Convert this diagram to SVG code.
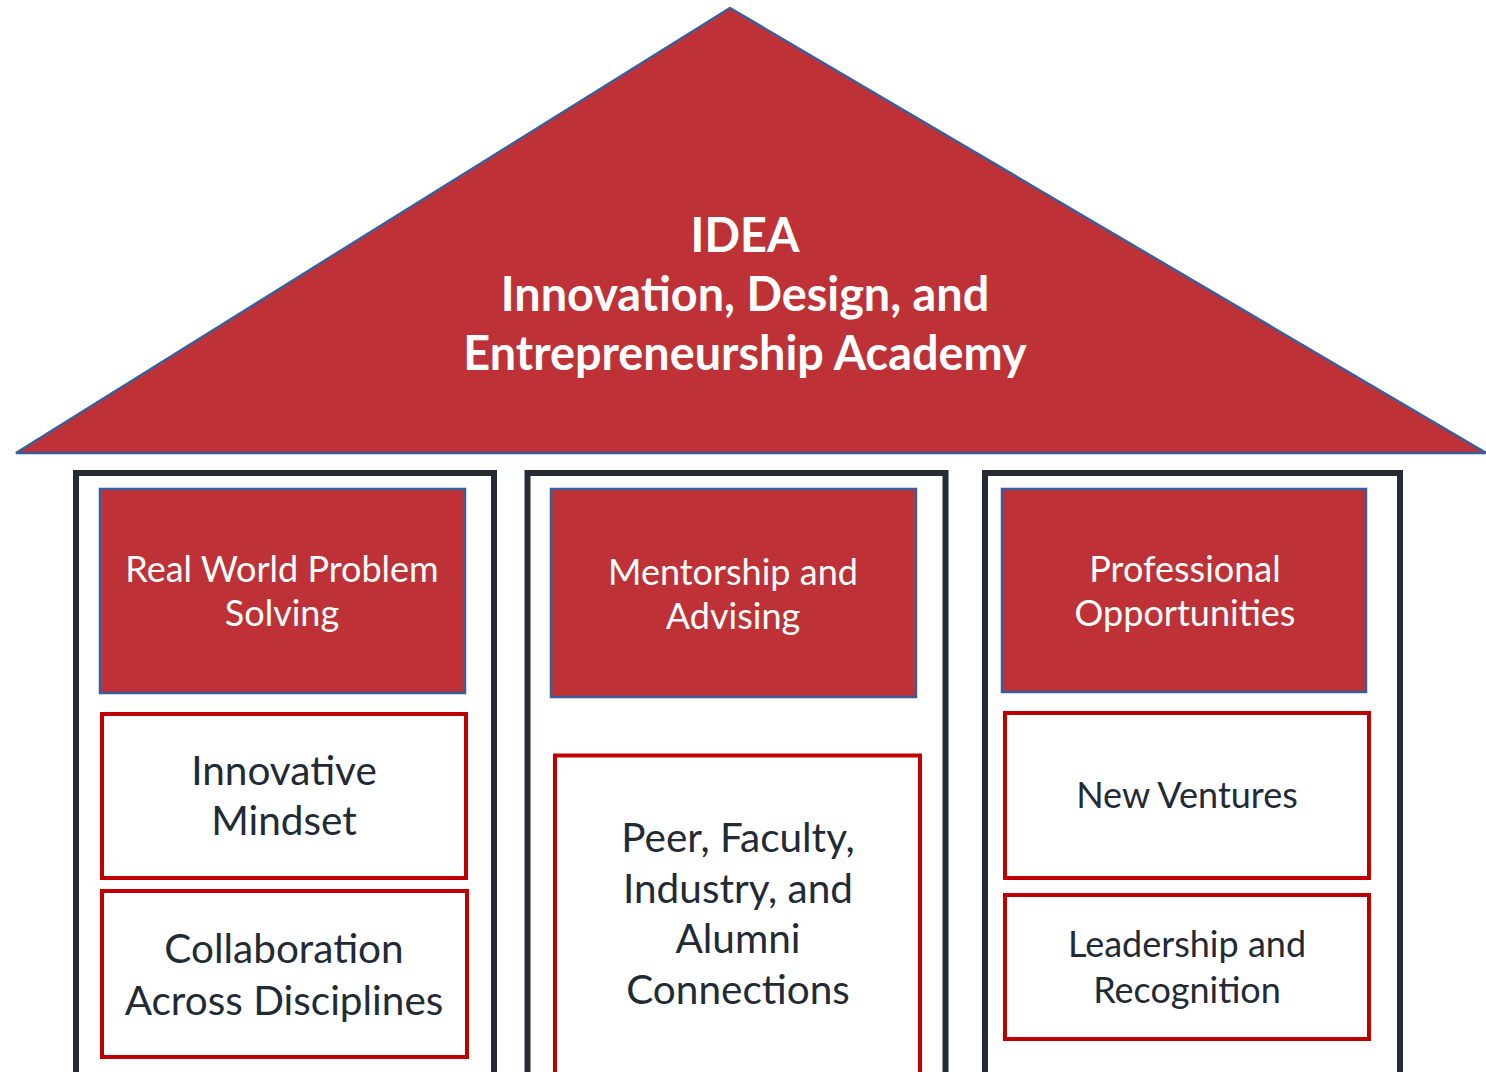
<svg xmlns="http://www.w3.org/2000/svg" width="1486" height="1072" viewBox="0 0 1486 1072">
<style>
.roof{fill:#BE3237;stroke:#3A5E9C;stroke-width:2.5;stroke-linejoin:bevel}
.pillar{fill:#FFFFFF;stroke:#252B35;stroke-width:6}
.head{fill:#BE3237;stroke:#3A5E9C;stroke-width:2.5}
.item{fill:#FFFFFF;stroke:#C00000;stroke-width:4}
.t{font-family:Lato,"Open Sans",sans-serif;text-anchor:middle}
.title{fill:#FFFFFF;font-weight:bold;font-size:46.8px}
.ht{fill:#FFFFFF;font-size:36px}
.it{fill:#222A35;font-size:40.5px}
.it2{fill:#222A35;font-size:36px}
</style>
<rect width="1486" height="1072" fill="#FFFFFF"/>
<g id="roof">
<polygon class="roof" points="730,8 1486,453 16,453"/>
<text class="t title" x="745" y="252">IDEA</text>
<text class="t title" x="745" y="311">Innovation, Design, and</text>
<text class="t title" x="745" y="370">Entrepreneurship Academy</text>
</g>
<g id="pillar-left">
<rect class="pillar" x="76" y="473" width="418" height="610"/>
</g>
<g id="pillar-middle">
<rect class="pillar" x="527.5" y="473" width="418" height="610"/>
</g>
<g id="pillar-right">
<rect class="pillar" x="985" y="473" width="415" height="610"/>
</g>
<g id="real-world">
<rect class="head" x="100" y="489" width="365" height="204"/>
<text class="t ht" x="282" y="582">Real World Problem</text>
<text class="t ht" x="282" y="626">Solving</text>
</g>
<g id="mentorship">
<rect class="head" x="551" y="489" width="365" height="208"/>
<text class="t ht" x="733" y="585">Mentorship and</text>
<text class="t ht" x="733" y="629">Advising</text>
</g>
<g id="professional">
<rect class="head" x="1002" y="489" width="364" height="203"/>
<text class="t ht" x="1185" y="582">Professional</text>
<text class="t ht" x="1185" y="626">Opportunities</text>
</g>
<g id="innovative-mindset">
<rect class="item" x="102" y="714" width="364" height="164"/>
<text class="t it" x="284" y="785">Innovative</text>
<text class="t it" x="284" y="835">Mindset</text>
</g>
<g id="collaboration">
<rect class="item" x="102" y="891" width="365" height="166"/>
<text class="t it" x="284" y="963">Collaboration</text>
<text class="t it" x="284" y="1015">Across Disciplines</text>
</g>
<g id="connections">
<rect class="item" x="555" y="755.5" width="365" height="330"/>
<text class="t it" x="738" y="852">Peer, Faculty,</text>
<text class="t it" x="738" y="903">Industry, and</text>
<text class="t it" x="738" y="953">Alumni</text>
<text class="t it" x="738" y="1004">Connections</text>
</g>
<g id="new-ventures">
<rect class="item" x="1005" y="713" width="364" height="165"/>
<text class="t it2" x="1187" y="808">New Ventures</text>
</g>
<g id="leadership">
<rect class="item" x="1005" y="895" width="364" height="144"/>
<text class="t it2" x="1187" y="957">Leadership and</text>
<text class="t it2" x="1187" y="1003">Recognition</text>
</g>
<g id="connectors"></g>
</svg>
